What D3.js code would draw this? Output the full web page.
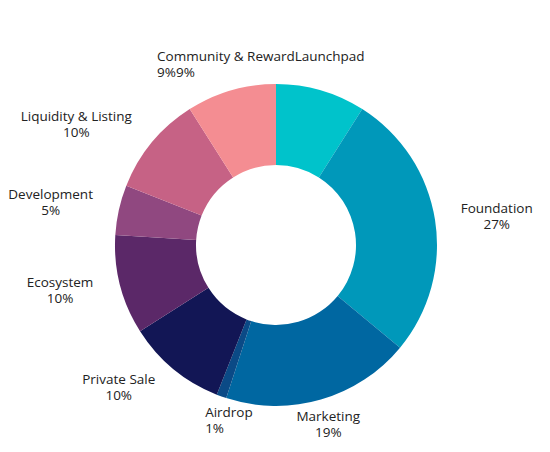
<!DOCTYPE html>
<html lang="en">
<head>
    <meta charset="UTF-8">
    <title>Token Allocation</title>
    <script src="https://d3js.org/d3.v7.min.js"></script>
    <style>
        body {
            margin: 0;
            background-color: #ffffff;
        }
        svg {
            display: block;
        }
        .label {
            font-family: "Open Sans", sans-serif;
            font-size: 13.5px;
            fill: #222;
        }
    </style>
</head>
<body>

<svg id="chart"></svg>

<script>
    const width = 550;
    const height = 452;

    // data, clockwise from 12 o'clock
    const categories = ["Launchpad", "Foundation", "Marketing", "Airdrop", "Private Sale",
                        "Ecosystem", "Development", "Liquidity & Listing", "Community & Reward"];
    const shares = [9, 27, 19, 1, 10, 10, 5, 10, 9];
    const colors = ["#00c3cb", "#0098ba", "#0067a1", "#0b4a86", "#121655",
                    "#5b2868", "#904880", "#c66285", "#f48d92"];

    const cx = 276, cy = 245;
    const outerR = 161, innerR = 80;

    // where each label sits: [angle in degrees from top, radius, anchor]
    const labelAt = {
        "Foundation": [81.8, 223, "middle"],
        "Marketing": [163.5, 184, "middle"],
        "Airdrop": [202.4, 186, "start"],
        "Private Sale": [228.5, 210, "middle"],
        "Ecosystem": [259, 220, "middle"],
        "Development": [281.5, 230, "middle"],
        "Liquidity & Listing": [301.8, 235, "middle"]
    };
    // the two top labels run together in one text block
    const topGroup = ["Community & Reward", "Launchpad"];
    const topAt = [327.1, 219];

    const svg = d3.select("#chart")
        .attr("width", width)
        .attr("height", height);

    const g = svg.append("g").attr("transform", `translate(${cx},${cy})`);

    const slices = categories.map((c, i) => ({ name: c, value: shares[i], color: colors[i] }));

    const pie = d3.pie().sort(null).value(d => d.value);
    const arc = d3.arc().innerRadius(innerR).outerRadius(outerR);

    g.selectAll("path")
        .data(pie(slices))
        .enter().append("path")
        .attr("d", arc)
        .attr("fill", d => d.data.color);

    function polar(deg, r) {
        const a = deg * Math.PI / 180;
        return [Math.sin(a) * r, -Math.cos(a) * r];
    }

    const lineGap = 16;

    slices.forEach(d => {
        const spot = labelAt[d.name];
        if (!spot) return;
        const [x, y] = polar(spot[0], spot[1]);
        const t = g.append("text")
            .attr("class", "label")
            .attr("text-anchor", spot[2]);
        t.append("tspan").attr("x", x).attr("y", y).text(d.name);
        t.append("tspan").attr("x", x).attr("y", y + lineGap).text(d.value + "%");
    });

    const [tx, ty] = polar(topAt[0], topAt[1]);
    const topSlices = topGroup.map(n => slices.find(s => s.name === n));
    const tt = g.append("text").attr("class", "label");
    tt.append("tspan").attr("x", tx).attr("y", ty).text(topSlices.map(s => s.name).join(""));
    tt.append("tspan").attr("x", tx).attr("y", ty + lineGap).text(topSlices.map(s => s.value + "%").join(""));
</script>

</body>
</html>
